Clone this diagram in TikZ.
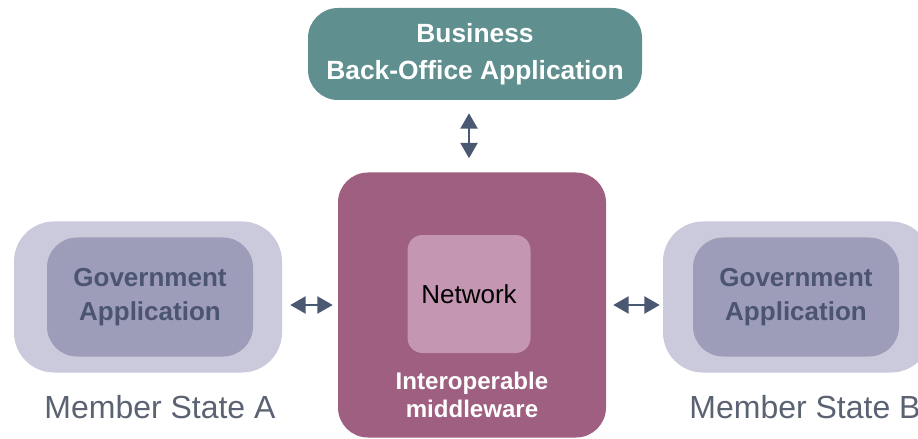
\documentclass[tikz,border=0pt]{standalone}
\usepackage{fontspec}
\setmainfont{Liberation Sans}
\usetikzlibrary{arrows}

\definecolor{bizteal}{HTML}{5F8F8F}
\definecolor{midmauve}{HTML}{9E5F80}
\definecolor{netpink}{HTML}{C596B2}
\definecolor{stateout}{HTML}{CACADC}
\definecolor{statein}{HTML}{9D9DB9}
\definecolor{govtext}{HTML}{4B5470}
\definecolor{membertext}{HTML}{5B6272}
\definecolor{arrowgrey}{HTML}{4A5872}

\begin{document}
\begin{tikzpicture}[auto]
\tikzstyle{business} = [rectangle, fill=bizteal, text=white, font=\fontsize{15}{21}\selectfont\bfseries,
minimum width=6.68cm, minimum height=1.84cm, rounded corners=0.6cm, align=center]
\tikzstyle{middleware} = [rectangle, fill=midmauve, minimum width=5.36cm, minimum height=5.3cm,
rounded corners=0.6cm]
\tikzstyle{network} = [rectangle, fill=netpink, font=\fontsize{14.8}{17}\selectfont,
minimum width=2.46cm, minimum height=2.36cm, rounded corners=0.3cm]
\tikzstyle{stateouter} = [rectangle, fill=stateout, minimum width=5.36cm, minimum height=3.02cm,
rounded corners=0.8cm]
\tikzstyle{stateinner} = [rectangle, fill=statein, text=govtext, font=\fontsize{14.8}{19.5}\selectfont\bfseries,
minimum width=4.12cm, minimum height=2.38cm, rounded corners=0.6cm, align=center]
\tikzstyle{member} = [text=membertext, font=\fontsize{18.2}{20}\selectfont]
\tikzstyle{line} = [draw=arrowgrey, line width=1.4pt, <->, >=triangle 60];

\useasboundingbox (0,0) rectangle (18.36,-8.78);

% top
\node [business] (biz) at (9.5,-1.08) {Business\\Back-Office Application};
% centre
\node [middleware] (mid) at (9.44,-6.1) {};
\node [network] (net) at (9.38,-5.88) {Network};
\node [text=white, font=\fontsize{13.7}{15.5}\selectfont\bfseries, align=center] (interop) at (9.44,-7.9)
{Interoperable\\middleware};
% member state A
\node [stateouter] (outerA) at (2.96,-5.94) {};
\node [stateinner] (govA) at (3.0,-5.94) {Government\\Application};
\node [member] (stateA) at (3.2,-8.14) {Member State A};
% member state B
\node [stateouter] (outerB) at (15.94,-5.94) {};
\node [stateinner] (govB) at (15.92,-5.94) {Government\\Application};
\node [member] (stateB) at (16.1,-8.14) {Member State B};

\tikzstyle{every path}=[line]
\path [shorten <=0.26cm, shorten >=0.28cm] (biz.south -| net) -- (mid.north -| net);
\path [shorten <=0.16cm, shorten >=0.1cm] ([yshift=-0.16cm]outerA.east) -- ([yshift=-0.16cm]outerA.east -| mid.west);
\path [shorten <=0.14cm, shorten >=0.06cm] ([yshift=-0.16cm]outerB.west -| mid.east) -- ([yshift=-0.16cm]outerB.west);

\end{tikzpicture}
\end{document}
